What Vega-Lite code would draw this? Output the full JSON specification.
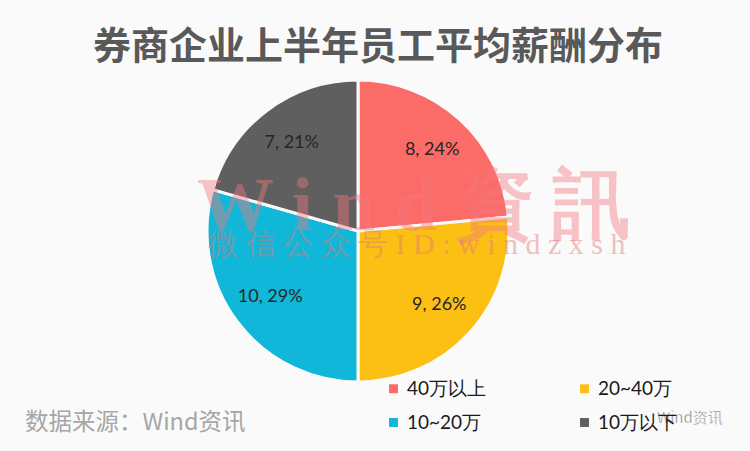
{
  "$schema": "https://vega.github.io/schema/vega-lite/v6.json",
  "description": "券商企业上半年员工平均薪酬分布",
  "width": 302,
  "height": 302,
  "autosize": "none",
  "padding": {"left": 207, "top": 80, "right": 241, "bottom": 69},
  "background": "#fafafa",
  "title": {
    "text": "券商企业上半年员工平均薪酬分布",
    "font": "Noto Sans CJK SC",
    "fontSize": 38,
    "fontWeight": "bold",
    "color": "#595959",
    "anchor": "middle",
    "dx": 20,
    "offset": 7
  },
  "config": {"view": {"stroke": null}},
  "datasets": {
    "pay": [
      {"group": "40万以上", "count": 8, "rank": 1, "label": "8, 24%"},
      {"group": "20~40万", "count": 9, "rank": 2, "label": "9, 26%"},
      {"group": "10~20万", "count": 10, "rank": 3, "label": "10, 29%"},
      {"group": "10万以下", "count": 7, "rank": 4, "label": "7, 21%"}
    ]
  },
  "layer": [
    {
      "data": {"name": "pay"},
      "mark": {"type": "arc", "outerRadius": 151, "stroke": "#fafafa", "strokeWidth": 3},
      "encoding": {
        "theta": {"field": "count", "type": "quantitative", "stack": true},
        "order": {"field": "rank", "type": "ordinal"},
        "color": {
          "field": "group",
          "type": "nominal",
          "sort": ["40万以上", "10~20万", "20~40万", "10万以下"],
          "scale": {
            "domain": ["40万以上", "10~20万", "20~40万", "10万以下"],
            "range": ["#fb6b68", "#10b7d8", "#fcc014", "#5f5f5f"]
          },
          "legend": {
            "title": null,
            "orient": "none",
            "legendX": 177,
            "legendY": 299,
            "columns": 2,
            "columnPadding": 88,
            "rowPadding": 14,
            "symbolType": "square",
            "symbolSize": 80,
            "symbolStrokeWidth": 0,
            "labelFont": "Lato",
            "labelFontSize": 19,
            "labelColor": "#1a1a1a",
            "labelLimit": 120,
            "gridAlign": "all"
          }
        }
      }
    },
    {
      "data": {"name": "pay"},
      "mark": {"type": "text", "radius": 110, "font": "Lato", "fontSize": 18, "color": "#262626"},
      "encoding": {
        "theta": {"field": "count", "type": "quantitative", "stack": true},
        "order": {"field": "rank", "type": "ordinal"},
        "text": {"field": "label", "type": "nominal"}
      }
    },
    {
      "data": {"values": [{"note": "W i n d 資 訊"}]},
      "mark": {"type": "text", "font": "Liberation Serif", "fontWeight": "bold", "fontSize": 77, "color": "#f4777d", "opacity": 0.42, "align": "left", "baseline": "middle", "dx": -161, "dy": -24},
      "encoding": {"text": {"field": "note", "type": "nominal"}}
    },
    {
      "data": {"values": [{"note": "微 信 公 众 号 I D : w i n d z x s h"}]},
      "mark": {"type": "text", "font": "Liberation Serif", "fontSize": 30, "color": "#e0787c", "opacity": 0.45, "align": "left", "baseline": "middle", "dx": -150, "dy": 14},
      "encoding": {"text": {"field": "note", "type": "nominal"}}
    },
    {
      "data": {"values": [{"note": "数据来源：Wind资讯"}]},
      "mark": {"type": "text", "font": "Noto Sans CJK SC", "fontSize": 23.5, "color": "#a6a6a6", "align": "left", "baseline": "middle", "dx": -333, "dy": 192},
      "encoding": {"text": {"field": "note", "type": "nominal"}}
    },
    {
      "data": {"values": [{"note": "Wind资讯"}]},
      "mark": {"type": "text", "font": "Noto Sans CJK SC", "fontSize": 15, "color": "#7a7a7a", "stroke": "#ffffff", "strokeWidth": 0.4, "align": "left", "baseline": "middle", "dx": 299, "dy": 187},
      "encoding": {"text": {"field": "note", "type": "nominal"}}
    }
  ]
}
